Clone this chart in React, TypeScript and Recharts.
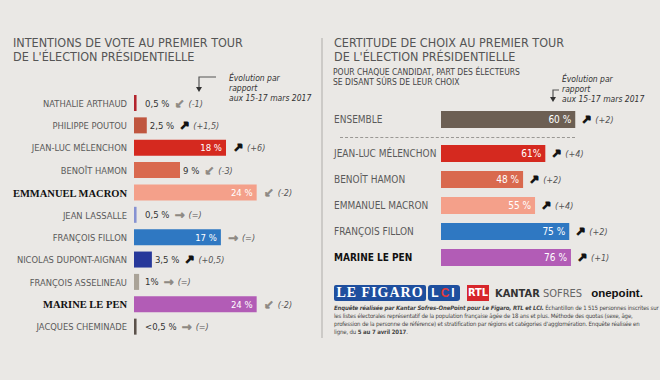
import React from 'react';
import { BarChart, Bar, XAxis, YAxis, Cell, LabelList } from 'recharts';

// Intentions de vote (Kantar Sofres-OnePoint, 5-7 avril 2017)
const voteNames = [
  'NATHALIE ARTHAUD', 'PHILIPPE POUTOU', 'JEAN-LUC MÉLENCHON', 'BENOÎT HAMON', 'EMMANUEL MACRON',
  'JEAN LASSALLE', 'FRANÇOIS FILLON', 'NICOLAS DUPONT-AIGNAN', 'FRANÇOIS ASSELINEAU', 'MARINE LE PEN',
  'JACQUES CHEMINADE',
];
const voteValues = [0.5, 2.5, 18, 9, 24, 0.5, 17, 3.5, 1, 24, 0.5];
const voteLabels = ['0,5 %', '2,5 %', '18 %', '9 %', '24 %', '0,5 %', '17 %', '3,5 %', '1%', '24 %', '<0,5 %'];
const voteEvolution = ['(-1)', '(+1,5)', '(+6)', '(-3)', '(-2)', '(=)', '(=)', '(+0,5)', '(=)', '(-2)', '(=)'];
const voteTrend = ['down', 'up', 'up', 'down', 'down', 'flat', 'flat', 'up', 'flat', 'down', 'flat'];
const voteColors = ['#b3242c', '#c0563f', '#d5291f', '#d9694e', '#f4a08a', '#8692d2', '#2f78c2', '#27389a', '#aaa398', '#b25cb6', '#5b514a'];

// Certitude de choix
const surNames = ['JEAN-LUC MÉLENCHON', 'BENOÎT HAMON', 'EMMANUEL MACRON', 'FRANÇOIS FILLON', 'MARINE LE PEN'];
const surValues = [61, 48, 55, 75, 76];
const surLabels = ['61%', '48 %', '55 %', '75 %', '76 %'];
const surEvolution = ['(+4)', '(+2)', '(+4)', '(+2)', '(+1)'];
const surColors = ['#d5291f', '#d9694e', '#f4a08a', '#2f78c2', '#b25cb6'];
const ensembleValue = 60;
const ensembleLabel = '60 %';
const ensembleEvolution = '(+2)';

const boldNames = ['EMMANUEL MACRON', 'MARINE LE PEN'];

const NARROW = "'Liberation Sans Narrow', 'DejaVu Sans Condensed', 'Roboto Condensed', 'Liberation Sans', sans-serif";
const ARROWS: Record<string, string> = { up: '↗', down: '↙', flat: '→' };
const ARROW_COLORS: Record<string, string> = { up: '#111', down: '#8d8882', flat: '#8d8882' };

const voteData = voteNames.map((name, i) => ({ i, name, value: voteValues[i] }));
const surData = surNames.map((name, i) => ({ i, name, value: surValues[i] }));
const ensembleData = [{ i: 0, name: 'ENSEMBLE', value: ensembleValue }];

const box = (p: any) => {
  const v = p.viewBox && p.viewBox.width !== undefined ? p.viewBox : p;
  return { x: Number(v.x), y: Number(v.y), width: Number(v.width), height: Number(v.height) };
};

const Trend = ({ trend, evo, gap }: { trend: string; evo: string; gap: number }) => (
  <>
    <tspan dx={gap} dy={1} fontFamily="'DejaVu Sans', sans-serif" fontWeight="bold" fontSize={12}
      fill={ARROW_COLORS[trend]} stroke={ARROW_COLORS[trend]} strokeWidth={trend === 'up' ? 1.1 : 0.5}>{ARROWS[trend]}</tspan>
    <tspan dx={4} dy={-1} fontStyle="italic" fontSize={9} fill="#555">{evo}</tspan>
  </>
);

const VoteLabel = (p: any) => {
  const { x, y, width, height } = box(p);
  const i = Number(p.value);
  const cy = y + height / 2 + 3.5;
  if (voteValues[i] >= 10) {
    return (
      <g fontFamily={NARROW}>
        <text x={x + width - 4} y={cy} textAnchor="end" fontSize={9.5} fill="#fff">{voteLabels[i]}</text>
        <text x={x + width + 7} y={cy}><Trend trend={voteTrend[i]} evo={voteEvolution[i]} gap={0} /></text>
      </g>
    );
  }
  return (
    <text x={Math.max(x + width + 3, x + 11)} y={cy} fontFamily={NARROW} fontSize={9.5} fill="#333">
      <tspan>{voteLabels[i]}</tspan>
      <Trend trend={voteTrend[i]} evo={voteEvolution[i]} gap={5} />
    </text>
  );
};

const makeSurLabel = (labels: string[], evos: string[]) => (p: any) => {
  const { x, y, width, height } = box(p);
  const i = Number(p.value);
  const cy = y + height / 2 + 3.5;
  return (
    <g fontFamily={NARROW}>
      <text x={x + width - 4} y={cy} textAnchor="end" fontSize={10} fill="#fff">{labels[i]}</text>
      <text x={x + width + 6} y={cy}><Trend trend="up" evo={evos[i]} gap={0} /></text>
    </g>
  );
};

const VoteTick = (p: any) => {
  const name = p.payload.value;
  const bold = boldNames.includes(name);
  return (
    <text x={127} y={p.y} dy={bold ? 4 : 3.5} textAnchor="end"
      fontFamily={bold ? "'Liberation Serif', serif" : NARROW}
      fontWeight={bold ? 'bold' : 'normal'} fontSize={bold ? 10.5 : 9.3} fill={bold ? '#111' : '#5a5a5a'}>
      {name}
    </text>
  );
};

const SurTick = (p: any) => {
  const name = p.payload.value;
  const bold = name === 'MARINE LE PEN';
  return (
    <text x={9} y={p.y} dy={3.5} textAnchor="start" fontFamily={NARROW}
      fontWeight={bold ? 'bold' : 'normal'} fontSize={10} fill={bold ? '#111' : '#5a5a5a'}>
      {name}
    </text>
  );
};

const abs = (left: number, top: number, extra: React.CSSProperties = {}): React.CSSProperties => ({
  position: 'absolute', left, top, ...extra,
});

export default function App() {
  return (
    <div style={{ position: 'absolute', left: 0, top: 0, width: 660, height: 380, overflow: 'hidden', background: '#eae8e5', fontFamily: NARROW }}>
      {/* titles */}
      <div style={abs(13, 36, { fontSize: 12.5, lineHeight: '14px', color: '#555', width: 300 })}>
        INTENTIONS DE VOTE AU PREMIER TOUR<br />DE L'ÉLECTION PRÉSIDENTIELLE
      </div>
      <div style={abs(334, 36, { fontSize: 12.5, lineHeight: '14px', color: '#555', width: 300 })}>
        CERTITUDE DE CHOIX AU PREMIER TOUR<br />DE L'ÉLECTION PRÉSIDENTIELLE
      </div>
      <div style={abs(333, 68, { fontSize: 8.5, lineHeight: '9.5px', color: '#444', width: 220 })}>
        POUR CHAQUE CANDIDAT, PART DES ÉLECTEURS<br />SE DISANT SÛRS DE LEUR CHOIX
      </div>

      {/* evolution notes */}
      <div style={abs(229, 73, { fontSize: 8.5, lineHeight: '10px', fontStyle: 'italic', color: '#333' })}>
        Évolution par<br />rapport<br />aux 15-17 mars 2017
      </div>
      <div style={abs(562, 74, { fontSize: 8.5, lineHeight: '10px', fontStyle: 'italic', color: '#333' })}>
        Évolution par<br />rapport<br />aux 15-17 mars 2017
      </div>
      <svg style={abs(0, 0)} width={660} height={380} pointerEvents="none">
        <path d="M216,77 L199,77 L199,88" stroke="#555" strokeWidth={1.2} fill="none" />
        <path d="M196,87 L202,87 L199,92 Z" fill="#333" />
        <path d="M559,90 L553,90 L553,98" stroke="#555" strokeWidth={1.2} fill="none" />
        <path d="M550,97 L556,97 L553,102 Z" fill="#333" />
        <line x1={322} y1={38} x2={322} y2={338} stroke="#aeaca9" strokeWidth={1} />
      </svg>

      {/* left chart */}
      <div style={abs(0, 92)}>
        <BarChart width={330} height={246} data={voteData} layout="vertical" margin={{ top: 0, right: 12, bottom: 0, left: 0 }}>
          <XAxis type="number" domain={[0, 36]} hide />
          <YAxis type="category" dataKey="name" width={134} axisLine={false} tickLine={false} interval={0} tick={<VoteTick />} />
          <Bar dataKey="value" barSize={16} isAnimationActive={false}>
            {voteData.map((d) => <Cell key={d.name} fill={voteColors[d.i]} />)}
            <LabelList dataKey="i" content={<VoteLabel />} />
          </Bar>
        </BarChart>
      </div>

      {/* right chart: ensemble */}
      <div style={abs(325, 106)}>
        <BarChart width={335} height={26} data={ensembleData} layout="vertical" margin={{ top: 0, right: 40, bottom: 0, left: 0 }}>
          <XAxis type="number" domain={[0, 80]} hide />
          <YAxis type="category" dataKey="name" width={116} axisLine={false} tickLine={false} tick={<SurTick />} />
          <Bar dataKey="value" barSize={17} fill="#6c5f53" isAnimationActive={false}>
            <LabelList dataKey="i" content={makeSurLabel([ensembleLabel], [ensembleEvolution])} />
          </Bar>
        </BarChart>
      </div>
      <div style={abs(340, 137, { width: 235, borderTop: '1px dashed #9a9894' })} />

      {/* right chart: candidates */}
      <div style={abs(325, 140)}>
        <BarChart width={335} height={130} data={surData} layout="vertical" margin={{ top: 0, right: 48, bottom: 0, left: 0 }}>
          <XAxis type="number" domain={[0, 100]} hide />
          <YAxis type="category" dataKey="name" width={116} axisLine={false} tickLine={false} interval={0} tick={<SurTick />} />
          <Bar dataKey="value" barSize={17} isAnimationActive={false}>
            {surData.map((d) => <Cell key={d.name} fill={surColors[d.i]} />)}
            <LabelList dataKey="i" content={makeSurLabel(surLabels, surEvolution)} />
          </Bar>
        </BarChart>
      </div>

      {/* logos */}
      <div style={abs(334, 285, { display: 'flex', alignItems: 'center', height: 16 })}>
        <div style={{ width: 92, textAlign: 'center', background: '#1f4f9e', color: '#fff', fontFamily: "'Liberation Serif', serif", fontWeight: 'bold', fontSize: 14, lineHeight: '16px', letterSpacing: 1, borderRadius: 2 }}>LE FIGARO</div>
        <div style={{ marginLeft: 2, width: 32, textAlign: 'center', background: '#1f4f9e', color: '#fff', fontFamily: "'Liberation Sans', sans-serif", fontWeight: 'bold', fontSize: 12, lineHeight: '16px', letterSpacing: 2, borderRadius: 3 }}>L<span style={{ color: '#e23b3b' }}>C</span>I</div>
        <div style={{ marginLeft: 7, width: 22, textAlign: 'center', background: '#d7262b', color: '#fff', fontFamily: NARROW, fontWeight: 'bold', fontSize: 11, lineHeight: '16px' }}>RTL</div>
        <div style={{ marginLeft: 6, color: '#333', fontFamily: NARROW, fontSize: 11, whiteSpace: 'nowrap' }}>
          <b>KANTAR</b> <span style={{ color: '#666' }}>SOFRES</span>
        </div>
        <div style={{ marginLeft: 9, color: '#111', fontFamily: "'Liberation Sans', sans-serif", fontWeight: 'bold', fontSize: 11.5 }}>onepoint.</div>
      </div>

      {/* footer */}
      <div style={abs(334, 304, { width: 320, fontSize: 6, lineHeight: '8px', letterSpacing: -0.15, color: '#444', whiteSpace: 'nowrap' })}>
        <b><i>Enquête réalisée par Kantar Sofres–OnePoint pour Le Figaro, RTL et LCI.</i></b> Échantillon de 1 515 personnes inscrites sur<br />
        les listes électorales représentatif de la population française âgée de 18 ans et plus. Méthode des quotas (sexe, âge,<br />
        profession de la personne de référence) et stratification par régions et catégories d'agglomération. Enquête réalisée en<br />
        ligne, du <b>5 au 7 avril 2017</b>.
      </div>
    </div>
  );
}
